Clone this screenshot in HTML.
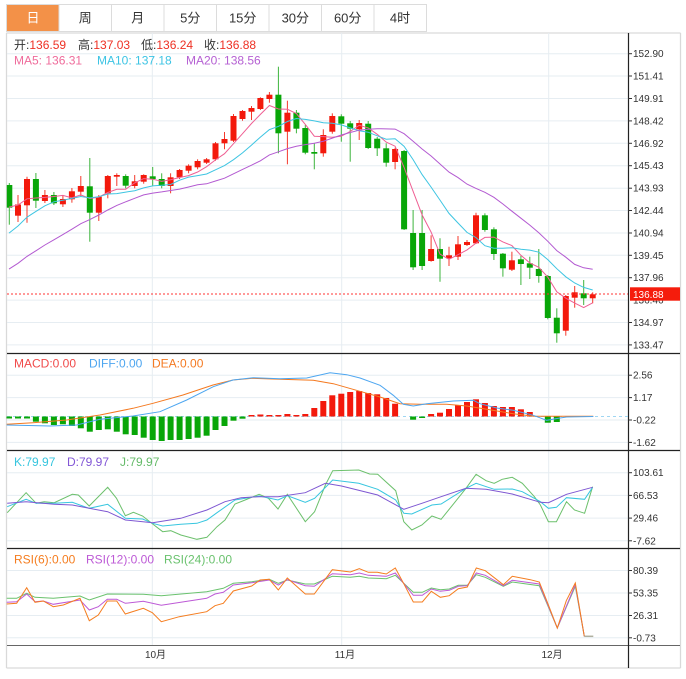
<!DOCTYPE html>
<html><head><meta charset="utf-8"><style>
html,body{margin:0;padding:0;background:#fff;}
svg{display:block;font-family:"Liberation Sans","Noto Sans CJK SC",sans-serif;}
</style></head><body>
<svg width="686" height="679" viewBox="0 0 686 679" xmlns="http://www.w3.org/2000/svg">
<rect x="0" y="0" width="686" height="679" fill="#fff"/>
<!-- tabs -->
<rect x="6.5" y="4.5" width="420" height="27" fill="#fff" stroke="#dcdcdc"/>
<rect x="7" y="5" width="52" height="26" fill="#f39148"/>
<g stroke="#dcdcdc"><line x1="59" y1="4.5" x2="59" y2="31.5"/><line x1="111.5" y1="4.5" x2="111.5" y2="31.5"/><line x1="164" y1="4.5" x2="164" y2="31.5"/><line x1="216.5" y1="4.5" x2="216.5" y2="31.5"/><line x1="269" y1="4.5" x2="269" y2="31.5"/><line x1="321.5" y1="4.5" x2="321.5" y2="31.5"/><line x1="374" y1="4.5" x2="374" y2="31.5"/></g>
<g font-size="13" text-anchor="middle" fill="#333">
<text x="33" y="22.5" fill="#fff">日</text><text x="85.3" y="22.5">周</text><text x="137.7" y="22.5">月</text><text x="190.3" y="22.5">5分</text><text x="242.7" y="22.5">15分</text><text x="295.3" y="22.5">30分</text><text x="347.7" y="22.5">60分</text><text x="400" y="22.5">4时</text>
</g>
<!-- outer frame -->
<g stroke="#d9d9d9" stroke-width="1.3" fill="none">
<line x1="6.5" y1="33" x2="6.5" y2="668"/><line x1="6.5" y1="668" x2="680.5" y2="668"/><line x1="680.5" y1="33" x2="680.5" y2="668"/><line x1="6.5" y1="33" x2="680.5" y2="33"/>
</g>
<!-- grid -->
<g stroke="#e6edf2" stroke-width="1">
<line x1="7" y1="53.7" x2="628" y2="53.7"/><line x1="7" y1="76" x2="628" y2="76"/><line x1="7" y1="98.5" x2="628" y2="98.5"/><line x1="7" y1="120.9" x2="628" y2="120.9"/><line x1="7" y1="143.3" x2="628" y2="143.3"/><line x1="7" y1="165.7" x2="628" y2="165.7"/><line x1="7" y1="188.2" x2="628" y2="188.2"/><line x1="7" y1="210.5" x2="628" y2="210.5"/><line x1="7" y1="233" x2="628" y2="233"/><line x1="7" y1="255.3" x2="628" y2="255.3"/><line x1="7" y1="277.7" x2="628" y2="277.7"/><line x1="7" y1="300.1" x2="628" y2="300.1"/><line x1="7" y1="322.5" x2="628" y2="322.5"/><line x1="7" y1="344.9" x2="628" y2="344.9"/>
<line x1="7" y1="375.2" x2="628" y2="375.2"/><line x1="7" y1="397.6" x2="628" y2="397.6"/><line x1="7" y1="420" x2="628" y2="420"/><line x1="7" y1="442.4" x2="628" y2="442.4"/>
<line x1="7" y1="472.7" x2="628" y2="472.7"/><line x1="7" y1="495.4" x2="628" y2="495.4"/><line x1="7" y1="518.1" x2="628" y2="518.1"/><line x1="7" y1="540.8" x2="628" y2="540.8"/>
<line x1="7" y1="570.5" x2="628" y2="570.5"/><line x1="7" y1="593" x2="628" y2="593"/><line x1="7" y1="615.5" x2="628" y2="615.5"/><line x1="7" y1="637.8" x2="628" y2="637.8"/>
<line x1="152.3" y1="33" x2="152.3" y2="645"/><line x1="341.7" y1="33" x2="341.7" y2="645"/><line x1="548.7" y1="33" x2="548.7" y2="645"/>
</g>
<!-- panel separators & axis -->
<g stroke="#222" stroke-width="1.2">
<line x1="7" y1="353.5" x2="680" y2="353.5"/><line x1="7" y1="450.5" x2="680" y2="450.5"/><line x1="7" y1="548.5" x2="680" y2="548.5"/>
</g>
<line x1="7" y1="645.5" x2="680" y2="645.5" stroke="#666" stroke-width="1"/>
<line x1="628.5" y1="33" x2="628.5" y2="668" stroke="#222" stroke-width="1.2"/>
<!-- legend -->
<g font-size="12">
<text x="14" y="49" fill="#333">开:<tspan fill="#ee3124">136.59</tspan></text>
<text x="78" y="49" fill="#333">高:<tspan fill="#ee3124">137.03</tspan></text>
<text x="141" y="49" fill="#333">低:<tspan fill="#ee3124">136.24</tspan></text>
<text x="204" y="49" fill="#333">收:<tspan fill="#ee3124">136.88</tspan></text>
<text x="14" y="64.3" fill="#ef6b9b">MA5: 136.31</text>
<text x="97" y="64.3" fill="#3cc4e4">MA10: 137.18</text>
<text x="186" y="64.3" fill="#b560d3">MA20: 138.56</text>
</g>
<!-- candles: wicks -->
<g stroke="#f4392c" stroke-width="1">
<line x1="18" y1="195" x2="18" y2="222"/><line x1="27" y1="176.7" x2="27" y2="222.7"/><line x1="44.9" y1="190" x2="44.9" y2="203"/><line x1="62.9" y1="195" x2="62.9" y2="207"/><line x1="71.9" y1="188" x2="71.9" y2="202.7"/><line x1="80.8" y1="176" x2="80.8" y2="196"/><line x1="98.8" y1="195" x2="98.8" y2="221"/><line x1="107.8" y1="175" x2="107.8" y2="198.3"/><line x1="116.8" y1="173.3" x2="116.8" y2="186"/><line x1="134.7" y1="175" x2="134.7" y2="188.3"/><line x1="143.7" y1="174.3" x2="143.7" y2="183.7"/><line x1="170.6" y1="173.3" x2="170.6" y2="193.3"/><line x1="179.6" y1="169" x2="179.6" y2="179"/><line x1="188.6" y1="164.3" x2="188.6" y2="173.3"/><line x1="197.6" y1="159.3" x2="197.6" y2="169.3"/><line x1="206.6" y1="158" x2="206.6" y2="164"/><line x1="215.5" y1="142" x2="215.5" y2="160.7"/><line x1="224.5" y1="132" x2="224.5" y2="149.3"/><line x1="233.5" y1="114" x2="233.5" y2="142"/><line x1="242.5" y1="110" x2="242.5" y2="120.7"/><line x1="251.5" y1="106" x2="251.5" y2="120"/><line x1="260.4" y1="97.3" x2="260.4" y2="110"/><line x1="269.4" y1="92" x2="269.4" y2="102.7"/><line x1="287.4" y1="100.7" x2="287.4" y2="164.3"/><line x1="323.3" y1="129.3" x2="323.3" y2="156.7"/><line x1="332.3" y1="113.3" x2="332.3" y2="133.7"/><line x1="359.2" y1="120" x2="359.2" y2="140"/><line x1="395.1" y1="147.7" x2="395.1" y2="169.3"/><line x1="431.1" y1="235.3" x2="431.1" y2="261.7"/><line x1="449" y1="246.7" x2="449" y2="266"/><line x1="458" y1="236" x2="458" y2="260"/><line x1="467" y1="240" x2="467" y2="246"/><line x1="476" y1="212.7" x2="476" y2="244"/><line x1="511.9" y1="251.7" x2="511.9" y2="271"/><line x1="565.8" y1="295" x2="565.8" y2="335.7"/><line x1="574.7" y1="286" x2="574.7" y2="307.7"/><line x1="592.7" y1="292.3" x2="592.7" y2="303.3"/>
</g>
<g stroke="#3cb43c" stroke-width="1">
<line x1="9.3" y1="183" x2="9.3" y2="224.7"/><line x1="35.9" y1="173" x2="35.9" y2="208"/><line x1="53.9" y1="192" x2="53.9" y2="205"/><line x1="89.8" y1="158" x2="89.8" y2="241.7"/><line x1="125.7" y1="174.3" x2="125.7" y2="188.3"/><line x1="152.7" y1="167" x2="152.7" y2="185.7"/><line x1="161.7" y1="173.3" x2="161.7" y2="188.3"/><line x1="278.4" y1="66.7" x2="278.4" y2="153.3"/><line x1="296.4" y1="110" x2="296.4" y2="133.3"/><line x1="305.3" y1="125" x2="305.3" y2="154.3"/><line x1="314.3" y1="143.3" x2="314.3" y2="169.3"/><line x1="341.3" y1="114.3" x2="341.3" y2="141.7"/><line x1="350.2" y1="121" x2="350.2" y2="161.7"/><line x1="368.2" y1="121" x2="368.2" y2="149"/><line x1="377.2" y1="137" x2="377.2" y2="156"/><line x1="386.2" y1="143.3" x2="386.2" y2="166.7"/><line x1="404.1" y1="150" x2="404.1" y2="230"/><line x1="413.1" y1="210" x2="413.1" y2="270"/><line x1="422.1" y1="210" x2="422.1" y2="270"/><line x1="440" y1="238.3" x2="440" y2="281.7"/><line x1="484.9" y1="213.3" x2="484.9" y2="231.7"/><line x1="493.9" y1="227.3" x2="493.9" y2="260"/><line x1="502.9" y1="253" x2="502.9" y2="276.7"/><line x1="520.9" y1="255.7" x2="520.9" y2="285"/><line x1="529.8" y1="256.7" x2="529.8" y2="279"/><line x1="538.8" y1="249" x2="538.8" y2="282.7"/><line x1="547.8" y1="275" x2="547.8" y2="319.3"/><line x1="556.8" y1="308.3" x2="556.8" y2="342.7"/><line x1="583.7" y1="280" x2="583.7" y2="305"/>
</g>
<!-- candle bodies -->
<g fill="#f3190c">
<rect x="15" y="204.5" width="6" height="11.2"/><rect x="24" y="179" width="6" height="26.3"/><rect x="41.9" y="195" width="6" height="6"/><rect x="59.9" y="199" width="6" height="5.3"/><rect x="68.9" y="191.3" width="6" height="8"/><rect x="77.8" y="186" width="6" height="5.7"/><rect x="95.8" y="196.7" width="6" height="16"/><rect x="104.8" y="176" width="6" height="17.3"/><rect x="113.8" y="175" width="6" height="1.7"/><rect x="131.7" y="181.3" width="6" height="4.7"/><rect x="140.7" y="175" width="6" height="6.7"/><rect x="167.6" y="177.3" width="6" height="8.7"/><rect x="176.6" y="170" width="6" height="7.3"/><rect x="185.6" y="165.7" width="6" height="5"/><rect x="194.6" y="161" width="6" height="6.3"/><rect x="203.6" y="159.3" width="6" height="3.4"/><rect x="212.5" y="143.3" width="6" height="16"/><rect x="221.5" y="139" width="6" height="4.3"/><rect x="230.5" y="116" width="6" height="24.7"/><rect x="239.5" y="111" width="6" height="8"/><rect x="248.5" y="108" width="6" height="3.7"/><rect x="257.4" y="98" width="6" height="11"/><rect x="266.4" y="94.7" width="6" height="4.3"/><rect x="284.4" y="112.7" width="6" height="19"/><rect x="320.3" y="135" width="6" height="18.3"/><rect x="329.3" y="116" width="6" height="15.7"/><rect x="356.2" y="123" width="6" height="6.3"/><rect x="392.1" y="149" width="6" height="13"/><rect x="428.1" y="249" width="6" height="12"/><rect x="446" y="255.3" width="6" height="3"/><rect x="455" y="244.3" width="6" height="12.4"/><rect x="464" y="242" width="6" height="3"/><rect x="473" y="215.3" width="6" height="28"/><rect x="508.9" y="260.3" width="6" height="9.4"/><rect x="562.8" y="296" width="6" height="34.7"/><rect x="571.7" y="292.3" width="6" height="5.4"/><rect x="589.7" y="294.3" width="6" height="4"/>
</g>
<g fill="#08a608">
<rect x="6.8" y="185" width="5.5" height="22.7"/><rect x="32.9" y="179" width="6" height="21.7"/><rect x="50.9" y="195" width="6" height="8.3"/><rect x="86.8" y="186.3" width="6" height="26.4"/><rect x="122.7" y="176" width="6" height="9.7"/><rect x="149.7" y="176.3" width="6" height="2.7"/><rect x="158.7" y="179" width="6" height="7"/><rect x="275.4" y="94.7" width="6" height="38.6"/><rect x="293.4" y="112.7" width="6" height="16"/><rect x="302.3" y="128" width="6" height="24.7"/><rect x="311.3" y="152" width="6" height="1.7"/><rect x="338.3" y="116.3" width="6" height="7.4"/><rect x="347.2" y="123.3" width="6" height="5.4"/><rect x="365.2" y="123.7" width="6" height="24.3"/><rect x="374.2" y="138.7" width="6" height="9.6"/><rect x="383.2" y="148.3" width="6" height="14.4"/><rect x="401.1" y="151" width="6" height="78.3"/><rect x="410.1" y="233" width="6" height="34.3"/><rect x="419.1" y="233" width="6" height="33"/><rect x="437" y="249" width="6" height="9.7"/><rect x="481.9" y="215.3" width="6" height="14.7"/><rect x="490.9" y="229.3" width="6" height="24.7"/><rect x="499.9" y="253.7" width="6" height="14.6"/><rect x="517.9" y="259.3" width="6" height="4.7"/><rect x="526.8" y="263.3" width="6" height="4.4"/><rect x="535.8" y="269" width="6" height="7"/><rect x="544.8" y="276" width="6" height="42"/><rect x="553.8" y="317.7" width="6" height="15.6"/><rect x="580.7" y="293.3" width="6" height="5"/>
</g>
<!-- MAs -->
<g fill="none" stroke-width="1">
<polyline stroke="#ef5f93" points="9,207.1 18,205 27,198.8 35.9,198 44.9,197.4 53.9,196.5 62.9,195.4 71.9,197.9 80.8,194.9 89.8,198.5 98.8,197.1 107.8,192.5 116.8,189.3 125.7,189.2 134.7,182.9 143.7,178.6 152.7,179.2 161.7,181.4 170.6,179.7 179.6,177.5 188.6,175.6 197.6,172 206.6,166.7 215.5,159.9 224.5,153.7 233.5,143.7 242.5,133.7 251.5,123.5 260.4,114.4 269.4,105.5 278.4,109 287.4,109.3 296.4,113.5 305.3,124.4 314.3,136.2 323.3,136.6 332.3,137.2 341.3,136.2 350.2,131.4 359.2,125.3 368.2,127.9 377.2,134.3 386.2,142.1 395.1,146.2 404.1,167.5 413.1,191.3 422.1,214.9 431.1,232.1 440,254.1 449,259.3 458,254.7 467,249.9 476,243.1 484.9,237.4 493.9,237.1 502.9,241.9 511.9,245.6 520.9,255.3 529.8,262.9 538.8,267.3 547.8,277.2 556.8,291.8 565.8,298.2 574.7,303.1 583.7,307.6 592.7,302.8"/>
<polyline stroke="#3ec5e2" points="9,233.1 18,226 27,217.2 35.9,211.4 44.9,205.8 53.9,201.8 62.9,200.2 71.9,198.4 80.8,196.5 89.8,197.9 98.8,196.8 107.8,194 116.8,193.6 125.7,192.1 134.7,190.7 143.7,187.9 152.7,185.9 161.7,185.3 170.6,184.5 179.6,180.2 188.6,177.1 197.6,175.6 206.6,174 215.5,169.8 224.5,165.6 233.5,159.7 242.5,152.9 251.5,145.1 260.4,137.1 269.4,129.6 278.4,126.4 287.4,121.5 296.4,118.5 305.3,119.4 314.3,120.9 323.3,122.8 332.3,123.3 341.3,124.9 350.2,127.9 359.2,130.8 368.2,132.2 377.2,135.8 386.2,139.2 395.1,138.8 404.1,146.4 413.1,159.6 422.1,174.6 431.1,187.1 440,200.1 449,213.4 458,223 467,232.4 476,237.6 484.9,245.7 493.9,248.2 502.9,248.3 511.9,247.7 520.9,249.2 529.8,250.1 538.8,252.2 547.8,259.6 556.8,268.7 565.8,276.8 574.7,283 583.7,287.4 592.7,290"/>
<polyline stroke="#b35ad1" points="9,269.1 18,263.3 27,256.4 35.9,250.8 44.9,245 53.9,239.8 62.9,234.6 71.9,229.2 80.8,223.7 89.8,219.6 98.8,215 107.8,210 116.8,205.4 125.7,201.8 134.7,198.3 143.7,194.9 152.7,193.1 161.7,191.9 170.6,190.5 179.6,189.1 188.6,187 197.6,184.8 206.6,183.8 215.5,181 224.5,178.2 233.5,173.8 242.5,169.4 251.5,165.2 260.4,160.8 269.4,154.9 278.4,151.8 287.4,148.6 296.4,146.3 305.3,144.6 314.3,143.3 323.3,141.3 332.3,138.1 341.3,135 350.2,132.5 359.2,130.2 368.2,129.3 377.2,128.7 386.2,128.9 395.1,129.1 404.1,133.7 413.1,141.2 422.1,149 431.1,156 440,164 449,172.1 458,177.6 467,184.1 476,188.4 484.9,192.3 493.9,197.3 502.9,204 511.9,211.2 520.9,218.2 529.8,225.1 538.8,232.8 547.8,241.3 556.8,250.6 565.8,257.2 574.7,264.4 583.7,267.8 592.7,269.2"/>
</g>
<!-- current price line -->
<line x1="7" y1="294" x2="628" y2="294" stroke="#f33" stroke-width="1" stroke-dasharray="2,2"/>
<!-- right axis ticks and labels -->
<g stroke="#333" stroke-width="1">
<line x1="628" y1="53.7" x2="632" y2="53.7"/><line x1="628" y1="76" x2="632" y2="76"/><line x1="628" y1="98.5" x2="632" y2="98.5"/><line x1="628" y1="120.9" x2="632" y2="120.9"/><line x1="628" y1="143.3" x2="632" y2="143.3"/><line x1="628" y1="165.7" x2="632" y2="165.7"/><line x1="628" y1="188.2" x2="632" y2="188.2"/><line x1="628" y1="210.5" x2="632" y2="210.5"/><line x1="628" y1="233" x2="632" y2="233"/><line x1="628" y1="255.3" x2="632" y2="255.3"/><line x1="628" y1="277.7" x2="632" y2="277.7"/><line x1="628" y1="322.5" x2="632" y2="322.5"/><line x1="628" y1="344.9" x2="632" y2="344.9"/>
<line x1="628" y1="375.2" x2="632" y2="375.2"/><line x1="628" y1="397.6" x2="632" y2="397.6"/><line x1="628" y1="420" x2="632" y2="420"/><line x1="628" y1="442.4" x2="632" y2="442.4"/>
<line x1="628" y1="472.7" x2="632" y2="472.7"/><line x1="628" y1="495.4" x2="632" y2="495.4"/><line x1="628" y1="518.1" x2="632" y2="518.1"/><line x1="628" y1="540.8" x2="632" y2="540.8"/>
<line x1="628" y1="570.5" x2="632" y2="570.5"/><line x1="628" y1="593" x2="632" y2="593"/><line x1="628" y1="615.5" x2="632" y2="615.5"/><line x1="628" y1="637.8" x2="632" y2="637.8"/>
</g>
<g font-size="10" fill="#333">
<text x="633" y="57.2">152.90</text><text x="633" y="79.5">151.41</text><text x="633" y="102">149.91</text><text x="633" y="124.4">148.42</text><text x="633" y="146.8">146.92</text><text x="633" y="169.2">145.43</text><text x="633" y="191.7">143.93</text><text x="633" y="214">142.44</text><text x="633" y="236.5">140.94</text><text x="633" y="258.8">139.45</text><text x="633" y="281.2">137.96</text><text x="633" y="303.6">136.46</text><text x="633" y="326">134.97</text><text x="633" y="348.4">133.47</text>
<text x="633" y="378.7">2.56</text><text x="633" y="401.1">1.17</text><text x="633" y="423.5">-0.22</text><text x="633" y="445.9">-1.62</text>
<text x="633" y="476.2">103.61</text><text x="633" y="498.9">66.53</text><text x="633" y="521.6">29.46</text><text x="633" y="544.3">-7.62</text>
<text x="633" y="574">80.39</text><text x="633" y="596.5">53.35</text><text x="633" y="619">26.31</text><text x="633" y="641.3">-0.73</text>
</g>
<rect x="630" y="287.3" width="50" height="13.4" fill="#f51c0c"/>
<text x="633" y="297.8" font-size="10" fill="#fff">136.88</text>
<!-- MACD -->
<g font-size="12">
<text x="14" y="367.7" fill="#f04a4a">MACD:0.00</text>
<text x="89" y="367.7" fill="#4ea6f0">DIFF:0.00</text>
<text x="152" y="367.7" fill="#f47a22">DEA:0.00</text>
</g>
<line x1="7" y1="416.5" x2="628" y2="416.5" stroke="#9fd6f2" stroke-width="1" stroke-dasharray="3,3"/>
<g fill="#08a608">
<rect x="6.5" y="416.5" width="5.5" height="2"/><rect x="15" y="416.5" width="6" height="2"/><rect x="24" y="416.5" width="6" height="2"/><rect x="32.9" y="416.5" width="6" height="5.2"/><rect x="41.9" y="416.5" width="6" height="6.8"/><rect x="50.9" y="416.5" width="6" height="8.5"/><rect x="59.9" y="416.5" width="6" height="7.8"/><rect x="68.9" y="416.5" width="6" height="9.5"/><rect x="77.8" y="416.5" width="6" height="11.8"/><rect x="86.8" y="416.5" width="6" height="15.2"/><rect x="95.8" y="416.5" width="6" height="13.5"/><rect x="104.8" y="416.5" width="6" height="12.8"/><rect x="113.8" y="416.5" width="6" height="15.2"/><rect x="122.7" y="416.5" width="6" height="17.8"/><rect x="131.7" y="416.5" width="6" height="18.5"/><rect x="140.7" y="416.5" width="6" height="21.2"/><rect x="149.7" y="416.5" width="6" height="23.5"/><rect x="158.7" y="416.5" width="6" height="24.5"/><rect x="167.6" y="416.5" width="6" height="23.5"/><rect x="176.6" y="416.5" width="6" height="23.5"/><rect x="185.6" y="416.5" width="6" height="22.5"/><rect x="194.6" y="416.5" width="6" height="21.2"/><rect x="203.6" y="416.5" width="6" height="19.2"/><rect x="212.5" y="416.5" width="6" height="13.5"/><rect x="221.5" y="416.5" width="6" height="9.5"/><rect x="230.5" y="416.5" width="6" height="4.2"/><rect x="239.5" y="416.5" width="6" height="2.2"/><rect x="410.1" y="416.5" width="6" height="3.2"/><rect x="419.1" y="416.5" width="6" height="1.5"/><rect x="544.8" y="416.5" width="6" height="6.2"/><rect x="553.8" y="416.5" width="6" height="5.5"/>
</g>
<g fill="#f3190c">
<rect x="248.5" y="415" width="6" height="1.5"/><rect x="257.4" y="414.5" width="6" height="2"/><rect x="266.4" y="415" width="6" height="1.5"/><rect x="275.4" y="415" width="6" height="1.5"/><rect x="284.4" y="414" width="6" height="2.5"/><rect x="293.4" y="415" width="6" height="1.5"/><rect x="302.3" y="414" width="6" height="2.5"/><rect x="311.3" y="408" width="6" height="8.5"/><rect x="320.3" y="401" width="6" height="15.5"/><rect x="329.3" y="395.3" width="6" height="21.2"/><rect x="338.3" y="393.7" width="6" height="22.8"/><rect x="347.2" y="392" width="6" height="24.5"/><rect x="356.2" y="391" width="6" height="25.5"/><rect x="365.2" y="393" width="6" height="23.5"/><rect x="374.2" y="394.3" width="6" height="22.2"/><rect x="383.2" y="398" width="6" height="18.5"/><rect x="392.1" y="403.7" width="6" height="12.8"/><rect x="428.1" y="414" width="6" height="2.5"/><rect x="437" y="412.7" width="6" height="3.8"/><rect x="446" y="409" width="6" height="7.5"/><rect x="455" y="405.3" width="6" height="11.2"/><rect x="464" y="402" width="6" height="14.5"/><rect x="473" y="399.3" width="6" height="17.2"/><rect x="481.9" y="403" width="6" height="13.5"/><rect x="490.9" y="406" width="6" height="10.5"/><rect x="499.9" y="407" width="6" height="9.5"/><rect x="508.9" y="407" width="6" height="9.5"/><rect x="517.9" y="409.3" width="6" height="7.2"/><rect x="526.8" y="412" width="6" height="4.5"/>
</g>
<g fill="none" stroke-width="1">
<polyline stroke="#f47920" points="6.7,424.3 33,422.7 66.7,420 100,415 133,408.3 153,403.3 183,395 213,385 233,380 253,378.3 280,379.3 313.3,380.3 333.3,383.7 360,391.3 380,397 400,403.7 420,404.3 446.7,404.3 466.7,406 486.7,409.3 513.3,413.7 533.3,416.3 593.3,416.3"/>
<polyline stroke="#4da6f0" points="6.7,425 50,426 76.7,425 100,419.3 133,416 160,411.7 186.7,400 213.3,386.7 233,380 253,377.7 280,378.7 306.7,378 330,372.7 346.7,374.7 360,378 380,385.3 393.3,395.3 403.3,404.3 413.3,406 426.7,403.7 453.3,401 473.3,400.3 480,403.7 496.7,408 513.3,410.3 533.3,415.3 546.7,420.3 560,418 566.7,417 593.3,416.5"/>
</g>
<!-- KDJ -->
<g font-size="12">
<text x="14" y="466" fill="#37c6df">K:79.97</text>
<text x="67" y="466" fill="#8257d6">D:79.97</text>
<text x="120" y="466" fill="#66bb6a">J:79.97</text>
</g>
<g fill="none" stroke-width="1">
<polyline stroke="#6cc06c" points="7.2,512.7 26.1,492.7 36.2,503.3 44.2,501.7 54.2,502.7 72.3,494.3 78.3,495 89.2,506 107.7,487.3 116.5,498.3 125.4,515.7 133.4,512.3 142.6,516 152.7,524 162.7,531.7 170.8,530.7 180.8,535 196.9,539.3 206.9,537.3 217,526.7 225,520 235,504 245.1,500 259.1,494.3 268.4,498.3 278,509 287.3,494.3 305.3,521.7 314.6,511.7 325.4,485 332.7,470.7 358.8,470 369.6,474 377.7,474.3 395.7,490.7 403.8,521.7 411.8,530 421.9,525 431.9,516 441.1,519.3 454,503.3 466,488.3 476.1,474.3 486.1,480.7 494.2,483.3 502.2,479.3 512.2,477.3 522.3,483.3 534.4,496.7 540.4,505 548.4,521.7 556.4,521.7 566.5,501.7 574.5,510 584.6,513.3 592.6,486.7"/>
<polyline stroke="#37c6df" points="7.2,506.7 26.1,499.3 36.2,503.3 54.2,503.3 72.3,502.3 89.2,508.3 107.7,504.3 125.4,518.3 142.6,519 152.7,523.3 162.7,526 180.8,524.3 196.9,523.3 206.9,520 217,512.7 235,500 259.1,496 278,500 287.3,495.7 305.3,502.3 314.6,498.3 332.7,480 358.8,483.3 377.7,489.3 395.7,500 403.8,513.3 411.8,514 431.9,505 441.1,504 466,488.3 476.1,483.3 494.2,489.3 512.2,489 522.3,491.7 540.4,501.7 548.4,508.3 556.4,507.3 566.5,497.7 584.6,499.3 592.6,487.3"/>
<polyline stroke="#7e57d2" points="7.2,503.3 26.1,501.7 54.2,504.3 72.3,505 89.2,508.3 107.7,511.7 125.4,520 152.7,522.7 180.8,518.3 206.9,510 225,501.7 241.1,497.7 259.1,496.7 278,496.7 305.3,492.7 325.4,483.3 341.5,486 377.7,495 403.8,509.3 421.9,503.3 441.1,496.7 466,488.3 486.1,489.3 512.2,494 540.4,502.3 548.4,502.7 566.5,494.3 592.6,487.3"/>
</g>
<!-- RSI -->
<g font-size="12">
<text x="14" y="563.3" fill="#f57d1f">RSI(6):0.00</text>
<text x="86" y="563.3" fill="#bd5ad6">RSI(12):0.00</text>
<text x="164" y="563.3" fill="#6ac26e">RSI(24):0.00</text>
</g>
<g fill="none" stroke-width="1">
<polyline stroke="#6ac26e" points="6.7,598.3 16.7,598.3 26.7,593.3 35,597.3 53.3,598.3 80,596 89.3,600 107.3,594 143.3,594.3 161.3,595.7 206.7,591.7 223.3,588.3 233.3,583.3 251.7,581.7 269.3,579.3 278.3,583.3 287.3,580 305.3,584 314.3,584 332.3,576.3 350.3,577.3 359.3,576.3 368.3,578 386.3,578.7 395.3,575.3 413.3,592.3 422.3,592.3 431.3,588 440.3,589.7 449.3,589 458.3,585.3 467.3,585.3 476.3,574.7 485.3,577.3 503.3,586.3 512.3,582 539.3,585.7 557.3,628 575.3,586.3 584.3,636.3"/>
<polyline stroke="#bd5ad6" points="6.7,602.3 16.7,601.7 26.7,594 35,601.7 43.3,601 53.3,604.3 80,600 89.3,610 98.3,606.7 107.3,599.3 116.7,599.3 125.3,603.3 143.3,601.3 161.3,605.3 206.7,598.3 215,594 223.3,592.3 233.3,585 251.7,582.7 269.3,580 278.3,585 287.3,579.7 305.3,585.7 314.3,586.3 332.3,573.7 350.3,574.7 359.3,573 368.3,575.3 386.3,576.3 395.3,573 413.3,595.3 422.3,595.3 431.3,589 440.3,591.3 449.3,590.3 458.3,586.3 467.3,585.7 476.3,573 485.3,575.3 503.3,585.7 512.3,580.3 539.3,584 557.3,628 575.3,584.7 584.3,636.3"/>
<polyline stroke="#f57d1f" points="6.7,604 16.7,603.3 26.7,587.7 35,602.3 43.3,601 53.3,606.7 63.3,605 80,598.3 89.3,620.7 98.3,615 107.3,601 116.7,601 125.3,614 143.3,608.3 152.3,612.7 161.3,621.7 179.3,616.7 206.7,611.7 215,605.7 223.3,603.3 233.3,591 251.7,586 260,580 269.3,579.3 278.3,590 287.3,578 305.3,594 314.3,594 332.3,569.7 350.3,572 359.3,568.7 368.3,572.3 377.3,572.3 386.3,574 395.3,568 404.3,584.7 413.3,602 422.3,602 431.3,591.3 440.3,597.3 449.3,595.7 458.3,588.7 467.3,587 476.3,568 485.3,570.7 503.3,584.7 512.3,576.3 530.3,579.7 539.3,582 548.3,604.7 557.3,628 566.3,600.7 575.3,583 584.3,636.3"/>
<line x1="584.3" y1="636.3" x2="593.3" y2="636.3" stroke="#b0b0a0" stroke-width="1.5"/>
</g>
<!-- x axis labels -->
<g font-size="10" fill="#333" text-anchor="middle">
<text x="155.5" y="658">10月</text>
<text x="345" y="658">11月</text>
<text x="552" y="658">12月</text>
</g>
</svg>
</body></html>
